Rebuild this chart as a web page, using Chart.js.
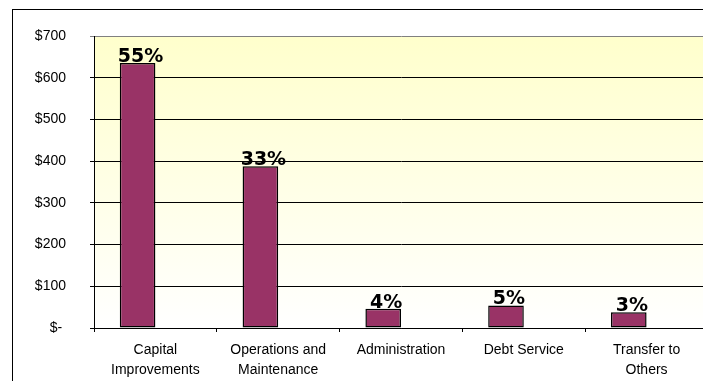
<!DOCTYPE html>
<html>
<head>
<meta charset="utf-8">
<script src="https://cdn.jsdelivr.net/npm/chart.js@4"></script>
<style>
    html, body { margin: 0; padding: 0; background: #fff; overflow: hidden; }
    #chart { display: block; }
</style>
</head>
<body>
<canvas id="chart" width="716" height="400"></canvas>
<script>
const categories = [
    ['Capital', 'Improvements'],
    ['Operations and', 'Maintenance'],
    'Administration',
    'Debt Service',
    ['Transfer to', 'Others'],
];
const spending = [635, 388, 46, 54, 38];
const yTicks = [0, 100, 200, 300, 400, 500, 600, 700];

const total = spending.reduce((a, b) => a + b, 0);
const shares = spending.map(v => Math.round(v / total * 100) + '%');

// Frame around the whole chart and the yellow fade behind the plot
const backgroundPlugin = {
    id: 'backgroundPlugin',
    beforeDraw: (chart) => {
        const { ctx, chartArea } = chart;
        ctx.save();
        ctx.strokeStyle = '#000';
        ctx.lineWidth = 1;
        ctx.strokeRect(12.5, 9.5, chart.width + 20, chart.height + 20);

        const grad = ctx.createLinearGradient(0, chartArea.top, 0, chartArea.bottom);
        grad.addColorStop(0, '#ffffcc');
        grad.addColorStop(1, '#ffffff');
        ctx.fillStyle = grad;
        ctx.fillRect(chartArea.left, chartArea.top, chartArea.right - chartArea.left, chartArea.bottom - chartArea.top);
        ctx.restore();
    },
};

// Percentage of total written above each bar
const shareLabelPlugin = {
    id: 'shareLabelPlugin',
    afterDatasetsDraw: (chart) => {
        const { ctx } = chart;
        const meta = chart.getDatasetMeta(0);
        ctx.save();
        ctx.font = 'bold 19px "DejaVu Sans"';
        ctx.fillStyle = '#000';
        ctx.textAlign = 'center';
        ctx.textBaseline = 'alphabetic';
        meta.data.forEach((bar, i) => {
            ctx.fillText(shares[i], bar.x + 3, bar.y - 1);
        });
        ctx.restore();
    },
};

const ctx = document.getElementById('chart').getContext('2d');
new Chart(ctx, {
    type: 'bar',
    data: {
        labels: categories,
        datasets: [
            {
                data: spending,
                backgroundColor: '#993366',
                borderColor: '#000',
                borderWidth: 1.5,
                borderSkipped: false,
                categoryPercentage: 0.58,
                barPercentage: 1,
            },
            {
                // empty companion series, keeps bars left of the category centre
                data: spending.map(() => null),
                categoryPercentage: 0.58,
                barPercentage: 1,
            },
        ],
    },
    options: {
        responsive: false,
        animation: false,
        events: [],
        layout: {
            padding: { left: 12, top: 36, right: 8, bottom: 0 },
        },
        plugins: {
            legend: { display: false },
            tooltip: { enabled: false },
        },
        scales: {
            x: {
                grid: {
                    display: true,
                    drawOnChartArea: false,
                    color: '#000',
                    tickLength: 4,
                },
                border: { color: '#000', width: 1 },
                ticks: {
                    color: '#000',
                    padding: 8,
                    maxRotation: 0,
                    autoSkip: false,
                    font: { family: '"Liberation Sans", Arial', size: 14, lineHeight: 1.45 },
                },
                afterFit: (scale) => { scale.height = 72; },
            },
            y: {
                min: 0,
                max: 700,
                afterBuildTicks: (scale) => { scale.ticks = yTicks.map(v => ({ value: v })); },
                grid: {
                    color: (c) => c.tick && c.tick.value === 700 ? '#808080' : '#000',
                    tickLength: 4,
                },
                border: { color: '#000', width: 1 },
                ticks: {
                    color: '#000',
                    padding: 24,
                    callback: (v) => v === 0 ? '$- ' : '$' + v,
                    font: { family: '"Liberation Sans", Arial', size: 14 },
                },
                afterFit: (scale) => { scale.width = 82; },
            },
        },
    },
    plugins: [backgroundPlugin, shareLabelPlugin],
});
</script>
</body>
</html>
